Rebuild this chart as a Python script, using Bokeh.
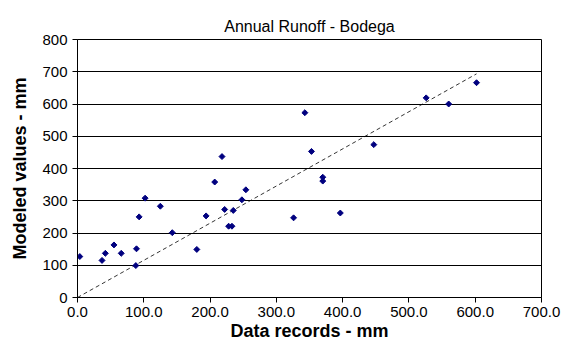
from bokeh.plotting import figure
from bokeh.models import ColumnDataSource, FixedTicker, NumeralTickFormatter, Range1d
from bokeh.embed import file_html
from bokeh.resources import INLINE

# Annual runoff at Bodega: observed records vs. modeled values (mm)
data_records = [3.5, 37, 42, 55, 66, 88, 89, 93, 102, 125, 143, 180, 194, 207, 218,
                222, 228, 233, 235, 248, 254, 326, 343, 353, 370, 370, 396.5, 447,
                526, 560, 602]
modeled_values = [127, 115, 137, 163, 137, 99, 151, 250, 308, 283, 201, 149, 253, 358,
                  437, 273, 221, 221, 270, 303, 334, 247, 573, 453, 373, 361, 262, 474,
                  619, 600, 666]

# linear trend through the origin
trend_x = [0, 602]
trend_slope = 1.152
trend_y = [x * trend_slope for x in trend_x]

x_ticks = [0, 100, 200, 300, 400, 500, 600, 700]
y_ticks = [0, 100, 200, 300, 400, 500, 600, 700, 800]

FONT = "Liberation Sans"

p = figure(width=564, height=345, output_backend="svg", toolbar_location=None,
           x_range=Range1d(0, 700), y_range=Range1d(0, 800),
           min_border_left=77, min_border_right=23, min_border_top=39, min_border_bottom=48)

p.title.text = "Annual Runoff - Bodega"
p.title.text_font = FONT
p.title.text_font_size = "16px"
p.title.text_font_style = "normal"
p.title.text_color = "black"
p.title.align = "center"
p.title.offset = 0
p.title.standoff = 10

p.outline_line_color = "black"
p.outline_line_width = 1
p.background_fill_color = "white"
p.border_fill_color = "white"

p.xgrid.visible = False
p.ygrid.grid_line_color = "black"
p.ygrid.grid_line_width = 1
p.ygrid.ticker = FixedTicker(ticks=y_ticks)

p.xaxis.ticker = FixedTicker(ticks=x_ticks)
p.xaxis.formatter = NumeralTickFormatter(format="0.0")
p.yaxis.ticker = FixedTicker(ticks=y_ticks)
p.yaxis.formatter = NumeralTickFormatter(format="0")

for ax in (p.xaxis[0], p.yaxis[0]):
    ax.axis_line_color = "black"
    ax.major_tick_line_color = "black"
    ax.major_tick_out = 5
    ax.major_tick_in = 0
    ax.minor_tick_line_color = None
    ax.major_label_text_font = FONT
    ax.major_label_text_font_size = "15px"
    ax.major_label_text_color = "black"
    ax.axis_label_text_font = FONT
    ax.axis_label_text_font_size = "18px"
    ax.axis_label_text_font_style = "bold"
    ax.axis_label_text_color = "black"

p.xaxis.axis_label = "Data records - mm"
p.yaxis.axis_label = "Modeled values - mm"
p.xaxis.major_label_standoff = 4
p.xaxis.axis_label_standoff = 1
p.yaxis.major_label_standoff = 5
p.yaxis.axis_label_standoff = 9

p.line(trend_x, trend_y, line_color="black", line_width=0.8, line_dash="4 3")

src = ColumnDataSource(dict(x=data_records, y=modeled_values))
p.scatter("x", "y", source=src, marker="square", angle=0.785398, size=4.2,
          fill_color="#00007F", line_color="#00007F", line_width=1)

open("out.html", "w").write(file_html(p, INLINE))
